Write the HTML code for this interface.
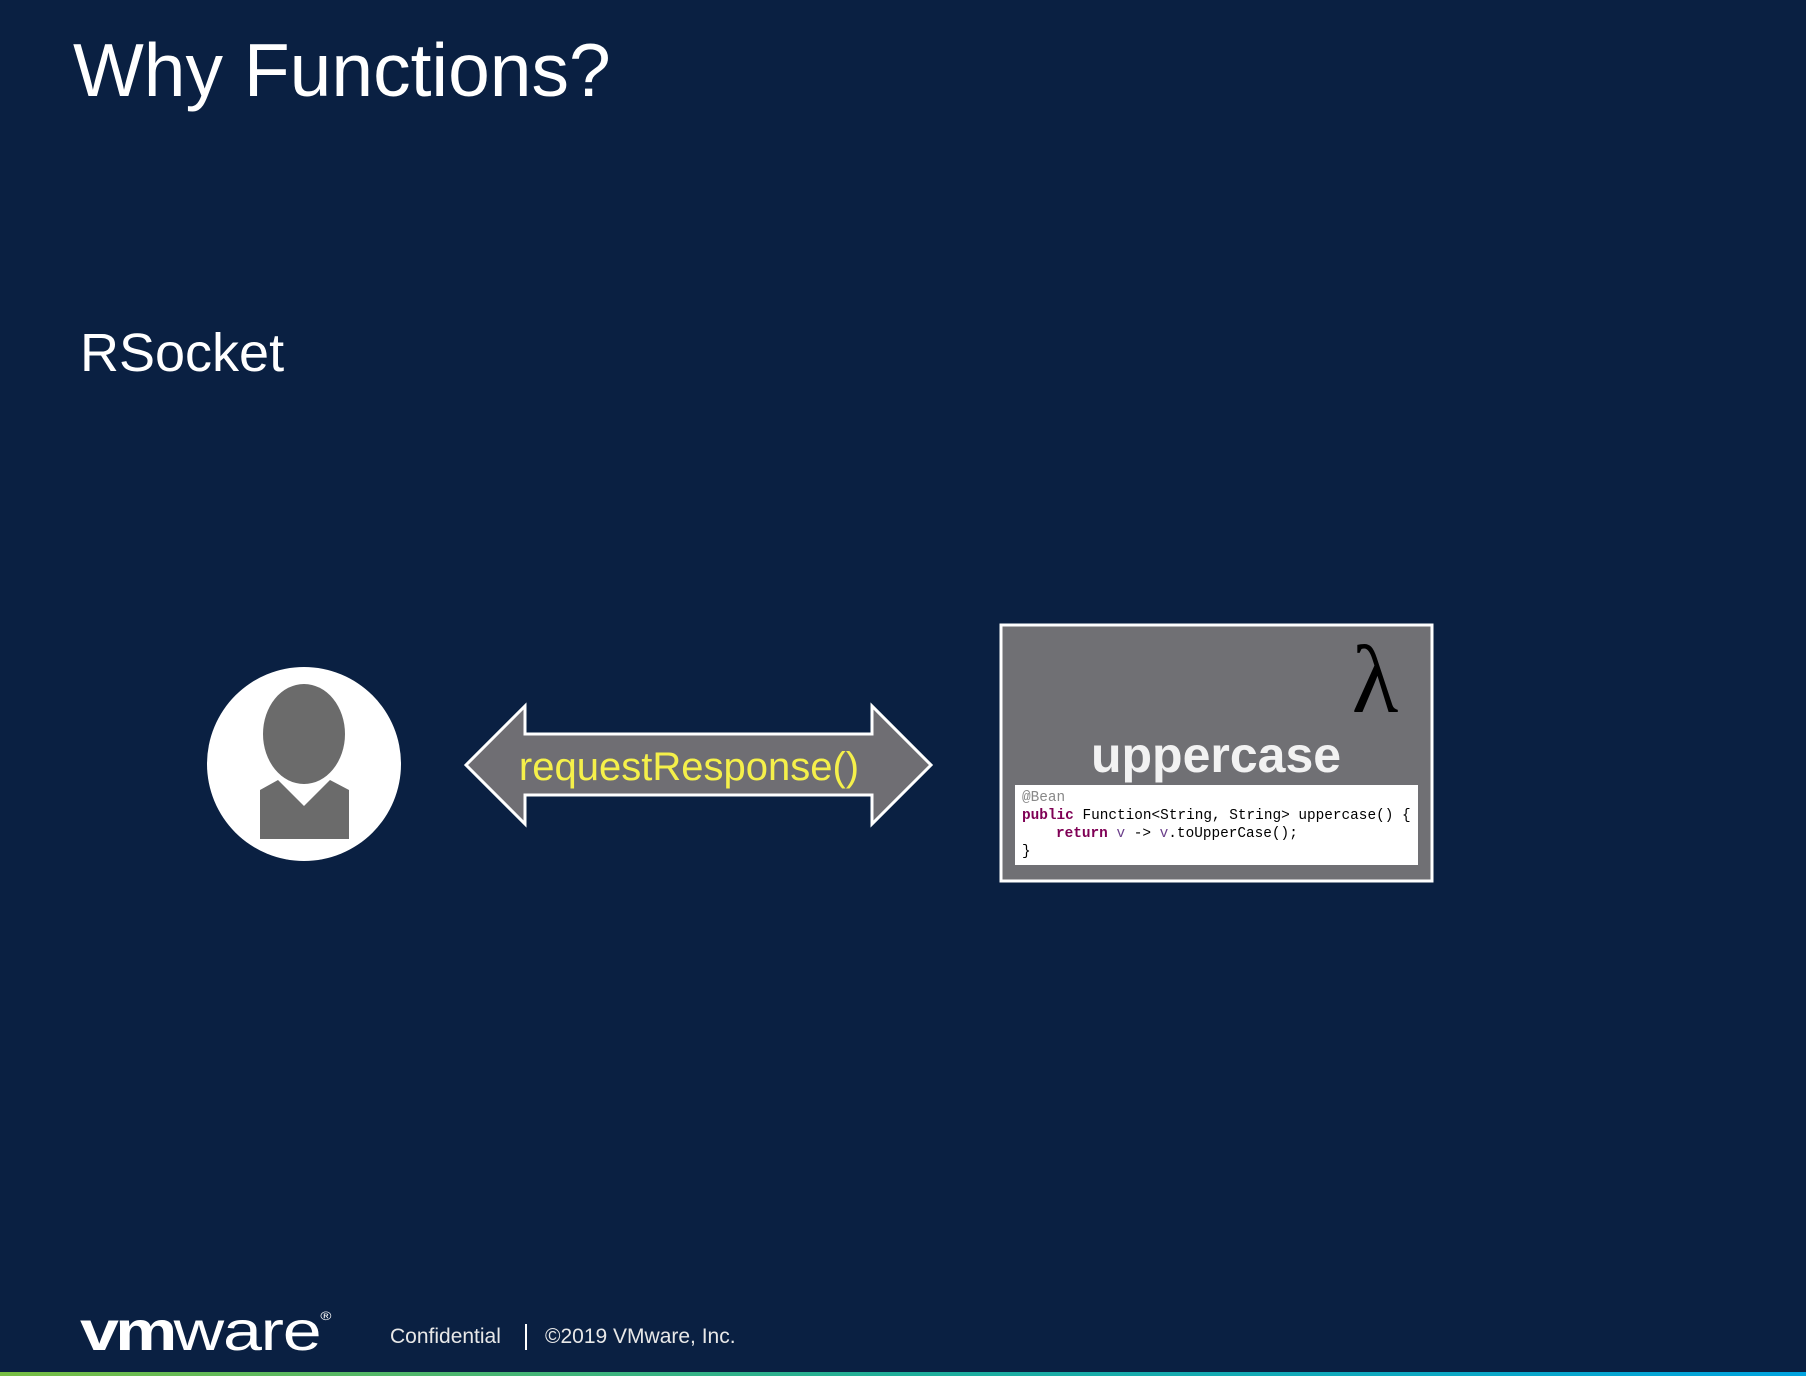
<!DOCTYPE html>
<html><head><meta charset="utf-8"><style>
html,body{margin:0;padding:0}
body{width:1806px;height:1376px;background:#0a2042;position:relative;overflow:hidden;font-family:"Liberation Sans",sans-serif;color:#fff}
.t{position:absolute;white-space:nowrap}
</style></head><body>
<div class="t" style="left:73px;top:24px;font-size:75px;line-height:92px">Why Functions?</div>
<div class="t" style="left:80px;top:321px;font-size:54px;line-height:64px">RSocket</div>
<svg width="1806" height="1376" style="position:absolute;left:0;top:0">
<circle cx="304" cy="764" r="97" fill="#fff"/>
<ellipse cx="304" cy="734" rx="41" ry="50" fill="#6b6b6b"/>
<path d="M260 790 L278 780 L304 806 L330 780 L349 790 L349 839 L260 839 Z" fill="#6b6b6b"/>
<polygon points="466,765 525,706 525,734 872,734 872,706 931,765 872,824 872,795 525,795 525,824" fill="#6f6e73" stroke="#fff" stroke-width="3"/>
<text x="689" y="780" text-anchor="middle" font-family="Liberation Sans" font-size="40" fill="#f5f04a">requestResponse()</text>
<rect x="1001" y="625" width="431" height="256" fill="#707074" stroke="#fff" stroke-width="3"/>
<text x="1375" y="712" text-anchor="middle" font-family="Liberation Serif" font-size="96" fill="#000">λ</text>
<text x="1216" y="772" text-anchor="middle" font-family="Liberation Sans" font-weight="bold" font-size="50" fill="#f2f2f2">uppercase</text>
<rect x="1015" y="785" width="403" height="80" fill="#fff"/>
<g font-family="Liberation Mono" font-size="14.4">
<text x="1022" y="801" fill="#888">@Bean</text>
<text x="1022" y="819" fill="#000"><tspan fill="#7f0055" font-weight="bold">public</tspan> Function&lt;String, String&gt; uppercase() {</text>
<text x="1056" y="837" fill="#000"><tspan fill="#7f0055" font-weight="bold">return</tspan> <tspan fill="#6a3e8a">v</tspan> -&gt; <tspan fill="#6a3e8a">v</tspan>.toUpperCase();</text>
<text x="1022" y="855" fill="#000">}</text>
</g>
<line x1="526" y1="1324" x2="526" y2="1350" stroke="#fff" stroke-width="2"/>
<defs><linearGradient id="g" x1="0" x2="1"><stop offset="0" stop-color="#78be43"/><stop offset="0.5" stop-color="#1fae9a"/><stop offset="1" stop-color="#00a3e0"/></linearGradient></defs>
<rect x="0" y="1372" width="1806" height="4" fill="url(#g)"/>
</svg>
<div class="t" style="left:80px;top:1284px;font-size:56px;line-height:64px;letter-spacing:-1px;transform:scaleX(1.25);transform-origin:left top"><b style="letter-spacing:-3px">vm</b>ware<sup style="font-size:12px;letter-spacing:0;vertical-align:30px">®</sup></div>
<div class="t" style="left:390px;top:1324px;font-size:21px;line-height:26px;color:#e8e8e8">Confidential</div>
<div class="t" style="left:545px;top:1324px;font-size:21px;line-height:26px;color:#e8e8e8">©2019 VMware, Inc.</div>
</body></html>
